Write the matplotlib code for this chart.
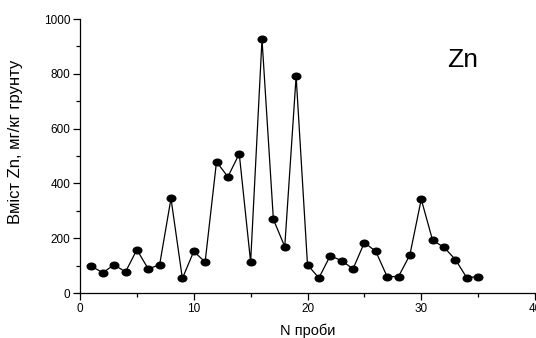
import matplotlib
matplotlib.use('Agg')
import matplotlib.pyplot as plt
import numpy as np
from matplotlib.path import Path
from matplotlib.ticker import MultipleLocator

# Вміст Zn по пробах
proba = list(range(1, 36))
zn = [98, 74, 103, 77, 158, 88, 103, 345, 53, 152,
      113, 479, 424, 508, 113, 926, 269, 169, 791, 103,
      55, 136, 118, 88, 184, 152, 60, 60, 139, 342,
      192, 167, 122, 56, 60]

plt.rcParams['font.family'] = ['Liberation Sans', 'DejaVu Sans']

# еліптичний маркер
c = Path.unit_circle()
ell = Path(c.vertices * np.array([1.3, 1.0]), c.codes)

fig = plt.figure(figsize=(5.36, 3.38), dpi=100)
ax = fig.add_axes([80 / 536, 1 - 293 / 338, 455 / 536, 274 / 338])
ax.plot(proba, zn, color='black', lw=0.9, marker=ell, markersize=6.2,
        markerfacecolor='black', markeredgecolor='black', clip_on=False)

ax.set_xlim(0, 40)
ax.set_ylim(0, 1000)
ax.xaxis.set_major_locator(MultipleLocator(10))
ax.xaxis.set_minor_locator(MultipleLocator(5))
ax.yaxis.set_major_locator(MultipleLocator(200))
ax.yaxis.set_minor_locator(MultipleLocator(100))
ax.tick_params(which='major', length=5, width=0.9, labelsize=8.5, pad=2)
ax.tick_params(which='minor', length=3, width=0.9)
for s in ['top', 'right']:
    ax.spines[s].set_visible(False)
for s in ['left', 'bottom']:
    ax.spines[s].set_linewidth(0.9)

ax.set_xlabel('N проби', fontsize=10.5)
ax.set_ylabel('Вміст Zn, мг/кг грунту', fontsize=12)
ax.xaxis.set_label_coords(0.5, -0.112)
ax.yaxis.set_label_coords(-0.125, 0.55)
ax.text(0.84, 0.85, 'Zn', transform=ax.transAxes, fontsize=19,
        ha='center', va='center')

fig.savefig('out.png', dpi=100)
